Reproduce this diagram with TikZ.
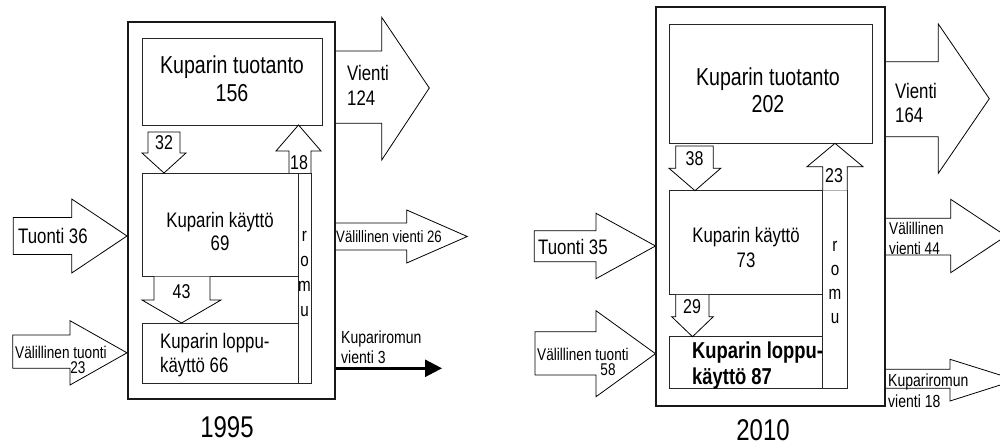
\documentclass[tikz,border=0pt]{standalone}
\usepackage{fontspec}
\setmainfont[FakeStretch=0.8]{Liberation Sans}
\usetikzlibrary{arrows.meta}

\newcommand{\fsuuri}{\fontsize{24.5}{28}\selectfont}
\newcommand{\fnorm}{\fontsize{21}{24}\selectfont}
\newcommand{\fpieni}{\fontsize{17}{20.5}\selectfont}
\newcommand{\fnum}{\fontsize{20}{24}\selectfont}
\newcommand{\fvuosi}{\fontsize{30}{36}\selectfont}

\begin{document}
\begin{tikzpicture}[x=1pt, y=-1pt,
    laatikko/.style={draw=black!85, line width=0.9pt, fill=white, inner sep=0pt},
    kehys/.style={draw=black!90, line width=2.6pt, inner sep=0pt},
    nuoli/.style={draw=black, line width=0.8pt, fill=white, line join=miter},
    teksti/.style={inner sep=0pt, align=left, anchor=west},
    keski/.style={inner sep=0pt, align=center}]

    \useasboundingbox (0,0) rectangle (1000,446);

    % ===== 1995 =====
    % Laatikot
    \node[laatikko, minimum width=180pt, minimum height=87pt] (tuot95) at (232,81.5) {};
    \node[laatikko, minimum width=156pt, minimum height=103pt] (kaytto95) at (220,224.5) {};
    \node[laatikko, minimum width=13pt, minimum height=210pt] (romu95) at (304.5,278) {};
    \node[laatikko, minimum width=156pt, minimum height=60pt] (loppu95) at (220,353) {};

    % Nuolet laatikoiden valilla
    \draw[nuoli] (148,132) -- (180,132) -- (180,153) -- (186,153) -- (164,173) -- (142,153) -- (148,153) -- cycle;
    \draw[nuoli] (289,173) -- (289,151) -- (276,151) -- (298.5,125) -- (321,151) -- (311,151) -- (311,173);
    \draw[nuoli] (154,276.5) -- (154,300) -- (142,300) -- (181.5,323) -- (221,300) -- (210,300) -- (210,276.5);

    % Vienti ja tuonti
    \draw[nuoli] (335,51) -- (381.7,51) -- (381.7,17.3) -- (429.3,88) -- (381.7,160) -- (381.7,123.3) -- (335,123.3);
    \draw[nuoli] (335,223) -- (406.7,223) -- (406.7,210) -- (467.3,236.5) -- (406.7,263) -- (406.7,250) -- (335,250);
    \draw[nuoli] (13.3,217.5) -- (71.7,217.5) -- (71.7,199) -- (127,236) -- (71.7,273) -- (71.7,254.5) -- (13.3,254.5) -- cycle;
    \draw[nuoli] (12.7,335) -- (70,335) -- (70,320.7) -- (127,352.8) -- (70,385) -- (70,368.3) -- (12.7,368.3) -- cycle;

    % Kehys
    \node[kehys, minimum width=207pt, minimum height=377pt] (kehys95) at (231.5,210.5) {};

    % Kupariromun vienti
    \coordinate (ulos95) at (442,368.3);
    \draw[line width=2.6pt, -{Triangle[length=17pt, width=17pt]}] (kehys95.east |- ulos95) -- (ulos95);

    % Tekstit
    \node[keski, font=\fsuuri] (t-tuot95) at (232,79) {Kuparin tuotanto\\156};
    \node[keski, font=\fontsize{21}{23.5}\selectfont] (t-kaytto95) at (220,231.5) {Kuparin käyttö\\69};
    \node[teksti, font=\fnorm] (t-loppu95) at (160,355) {Kuparin loppu-\\käyttö 66};
    \node[keski, font=\fontsize{19}{25}\selectfont] (t-romu95) at (304.5,274) {r\\o\\m\\u};
    \node[keski, font=\fnum] (n32) at (164,143) {32};
    \node[keski, font=\fnum] (n18) at (299,162.5) {18};
    \node[keski, font=\fnum] (n43) at (181.5,291.5) {43};
    \node[teksti, font=\fontsize{21}{25}\selectfont] (t-vienti95) at (347,85) {Vienti\\124};
    \node[teksti, font=\fontsize{16.5}{20}\selectfont] (t-vvienti95) at (336,237) {Välillinen vienti 26};
    \node[teksti, font=\fontsize{17.5}{20}\selectfont] (t-romuv95) at (341,347) {Kupariromun\\vienti 3};
    \node[teksti, font=\fnorm] (t-tuonti95) at (18,236) {Tuonti 36};
    \node[teksti, font=\fpieni] (t-vtuonti95) at (15,352) {Välillinen tuonti};
    \node[keski, font=\fpieni] (n23t) at (78,368) {23};
    \node[keski, font=\fvuosi] (v95) at (227,427) {1995};

    % ===== 2010 =====
    % Laatikot
    \node[laatikko, minimum width=203pt, minimum height=119.3pt] (tuot10) at (770.5,83.7) {};
    \node[laatikko, minimum width=153.7pt, minimum height=103.6pt] (kaytto10) at (745.85,242.5) {};
    \node[laatikko, minimum width=24.6pt, minimum height=197.6pt] (romu10) at (835,289.5) {};
    \node[laatikko, minimum width=153.7pt, minimum height=51.6pt] (loppu10) at (745.85,362.5) {};

    % Nuolet laatikoiden valilla
    \draw[nuoli] (675.7,146) -- (713.3,146) -- (713.3,168.3) -- (720.7,168.3) -- (695,190.7) -- (669,168.3) -- (675.7,168.3) -- cycle;
    \draw[nuoli] (822.7,190.7) -- (822.7,166.7) -- (807,166.7) -- (835,143.3) -- (863,166.7) -- (847.3,166.7) -- (847.3,190.7);
    \draw[nuoli] (675.7,294.8) -- (675.7,316.7) -- (671.7,316.7) -- (692.5,336.7) -- (713.3,316.7) -- (709,316.7) -- (709,294.8);

    % Vienti ja tuonti
    \draw[nuoli] (885,61.7) -- (938.3,61.7) -- (938.3,24) -- (989.3,98.7) -- (938.3,173.3) -- (938.3,136.7) -- (885,136.7);
    \draw[nuoli] (885,218.3) -- (950.7,218.3) -- (950.7,199.3) -- (1006,236) -- (950.7,272.7) -- (950.7,255) -- (885,255);
    \draw[nuoli] (885,369.3) -- (950,369.3) -- (950,359.3) -- (1016,380) -- (950,401) -- (950,388.3) -- (885,388.3);
    \draw[nuoli] (534.3,230.7) -- (596,230.7) -- (596,213.3) -- (655.5,246) -- (596,278.7) -- (596,261.7) -- (534.3,261.7) -- cycle;
    \draw[nuoli] (535,331.7) -- (596,331.7) -- (596,310.7) -- (655.5,353.7) -- (596,396.7) -- (596,375) -- (535,375) -- cycle;

    % Kehys
    \node[kehys, minimum width=229pt, minimum height=399pt] (kehys10) at (770.5,206.5) {};

    % Tekstit
    \node[keski, font=\fontsize{24.5}{27}\selectfont] (t-tuot10) at (768,90.5) {Kuparin tuotanto\\202};
    \node[keski, font=\fontsize{21}{25}\selectfont] (t-kaytto10) at (746,247.5) {Kuparin käyttö\\73};
    \node[teksti, font=\fontsize{23}{25.6}\selectfont\bfseries] (t-loppu10) at (692,365.5) {Kuparin loppu-\\käyttö 87};
    \node[keski, font=\fontsize{19}{24}\selectfont] (t-romu10) at (835,282.5) {r\\o\\m\\u};
    \node[keski, font=\fnum] (n38) at (694.5,159) {38};
    \node[keski, font=\fnum] (n23) at (834,176) {23};
    \node[keski, font=\fnum] (n29) at (692,307) {29};
    \node[teksti, font=\fontsize{21}{24.3}\selectfont] (t-vienti10) at (895,103) {Vienti\\164};
    \node[teksti, font=\fpieni] (t-vvienti10) at (889,238.3) {Välillinen\\vienti 44};
    \node[teksti, font=\fontsize{17.5}{21}\selectfont] (t-romuv10) at (888,391) {Kupariromun\\vienti 18};
    \node[teksti, font=\fnorm] (t-tuonti10) at (538,246.5) {Tuonti 35};
    \node[teksti, font=\fpieni] (t-vtuonti10) at (537,354) {Välillinen tuonti};
    \node[keski, font=\fpieni] (n58) at (608,370) {58};
    \node[keski, font=\fvuosi] (v10) at (763,430) {2010};

\end{tikzpicture}
\end{document}
